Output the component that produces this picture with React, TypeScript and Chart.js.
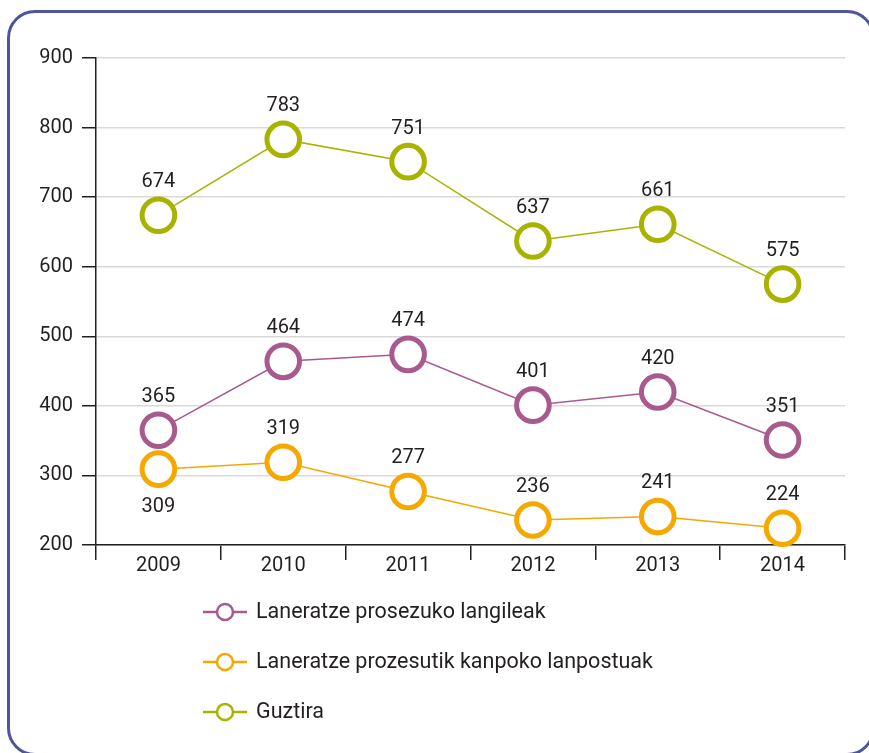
import React, { useEffect, useRef } from 'react';
import { Chart, registerables } from 'chart.js';

Chart.register(...registerables);

const categories = ['2009', '2010', '2011', '2012', '2013', '2014'];
const seriesNames = [
  'Laneratze prosezuko langileak',
  'Laneratze prozesutik kanpoko lanpostuak',
  'Guztira',
];
const langileak = [365, 464, 474, 401, 420, 351];
const kanpoko = [309, 319, 277, 236, 241, 224];
const guztira = [674, 783, 751, 637, 661, 575];
const kanpokoLabelBelow = [true, false, false, false, false, false];
const yMin = 200;
const yMax = 900;
const yStep = 100;

const FONT = 'Roboto, "Open Sans", sans-serif';
const TEXT = '#231f20';
const PURPLE = '#a85a8e';
const ORANGE = '#f5a800';
const GREEN = '#a8b300';

const dataLabelPlugin = {
  id: 'dataLabels',
  afterDatasetsDraw(chart: any) {
    const ctx = chart.ctx;
    ctx.save();
    ctx.font = `20px ${FONT}`;
    ctx.fillStyle = TEXT;
    ctx.textAlign = 'center';
    ctx.textBaseline = 'middle';
    chart.data.datasets.forEach((ds: any, i: number) => {
      const meta = chart.getDatasetMeta(i);
      meta.data.forEach((pt: any, j: number) => {
        const below = ds.labelBelow && ds.labelBelow[j];
        const y = below ? pt.y + 38 : pt.y - 33;
        ctx.fillText(String(ds.data[j]), pt.x, y);
      });
    });
    ctx.restore();
  },
};

const legendPlugin = {
  id: 'customLegend',
  afterDraw(chart: any) {
    const ctx = chart.ctx;
    const x0 = 203;
    const y0 = 612;
    const gap = 50;
    ctx.save();
    chart.data.datasets.forEach((ds: any, i: number) => {
      const y = y0 + i * gap;
      ctx.strokeStyle = ds.borderColor;
      ctx.lineWidth = 2.5;
      ctx.beginPath();
      ctx.moveTo(x0, y);
      ctx.lineTo(x0 + 44, y);
      ctx.stroke();
      ctx.beginPath();
      ctx.arc(x0 + 22, y, 8, 0, Math.PI * 2);
      ctx.fillStyle = '#ffffff';
      ctx.fill();
      ctx.stroke();
      ctx.fillStyle = TEXT;
      ctx.font = `21.5px ${FONT}`;
      ctx.textAlign = 'left';
      ctx.textBaseline = 'middle';
      ctx.fillText(ds.label, x0 + 53, y + 1);
    });
    ctx.restore();
  },
};

function makeDataset(label: string, data: number[], color: string, labelBelow?: boolean[]) {
  return {
    label,
    data,
    borderColor: color,
    backgroundColor: '#ffffff',
    borderWidth: 1.5,
    pointRadius: 16.3,
    pointHoverRadius: 16.3,
    pointBorderWidth: 5,
    pointHoverBorderWidth: 5,
    pointBackgroundColor: '#ffffff',
    pointBorderColor: color,
    tension: 0,
    fill: false,
    clip: false as any,
    labelBelow,
  };
}

export default function App() {
  const canvasRef = useRef<HTMLCanvasElement | null>(null);

  useEffect(() => {
    const canvas = canvasRef.current;
    if (!canvas) return;
    const chart = new Chart(canvas, {
      type: 'line',
      data: {
        labels: categories,
        datasets: [
          makeDataset(seriesNames[0], langileak, PURPLE),
          makeDataset(seriesNames[1], kanpoko, ORANGE, kanpokoLabelBelow),
          makeDataset(seriesNames[2], guztira, GREEN),
        ] as any,
      },
      options: {
        responsive: false,
        animation: false,
        devicePixelRatio: 1,
        layout: { padding: { left: 0, right: 24, top: 58, bottom: 168 } },
        plugins: {
          legend: { display: false },
          tooltip: { enabled: false },
        },
        scales: {
          x: {
            offset: true,
            afterFit: (scale: any) => {
              scale.height = 40;
            },
            grid: {
              offset: true,
              drawOnChartArea: false,
              drawTicks: true,
              tickLength: 15,
              color: '#231f20',
              tickColor: '#231f20',
              lineWidth: 1.5,
              tickWidth: 1.5,
            },
            border: { display: true, color: '#231f20', width: 1.5 },
            ticks: {
              color: TEXT,
              font: { family: FONT, size: 20 },
              padding: -6,
              maxRotation: 0,
            },
          },
          y: {
            min: yMin,
            max: yMax,
            afterFit: (scale: any) => {
              scale.width = 96;
            },
            grid: {
              color: '#d9d9d9',
              lineWidth: 1.5,
              tickColor: '#231f20',
              tickLength: 14,
              tickWidth: 1.5,
            },
            border: { display: true, color: '#231f20', width: 1.5 },
            ticks: {
              stepSize: yStep,
              color: TEXT,
              font: { family: FONT, size: 20 },
              padding: 9,
            },
          },
        },
      },
      plugins: [dataLabelPlugin, legendPlugin],
    });
    return () => chart.destroy();
  }, []);

  return (
    <div
      style={{
        position: 'fixed',
        left: 0,
        top: 0,
        width: 869,
        height: 753,
        overflow: 'hidden',
        background: '#ffffff',
      }}
    >
      <div
        style={{
          position: 'absolute',
          left: 7,
          top: 10,
          width: 868,
          height: 746,
          boxSizing: 'border-box',
          border: '3px solid #4c559e',
          borderRadius: 28,
        }}
      />
      <canvas
        ref={canvasRef}
        width={869}
        height={753}
        style={{ position: 'absolute', left: 0, top: 0, width: 869, height: 753 }}
      />
    </div>
  );
}
